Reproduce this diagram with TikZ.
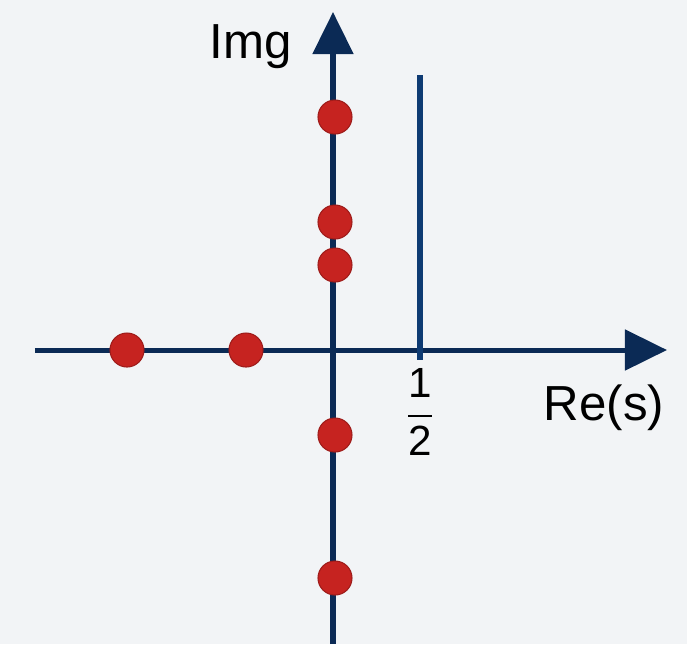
\documentclass[tikz,border=0pt]{standalone}
\usepackage{amsmath}
\usepackage{fontspec}
\setmainfont{Liberation Sans}
\usepackage{xcolor}
\usetikzlibrary{arrows.meta,positioning,calc}

\definecolor{axisnavy}{HTML}{0B2A55}
\definecolor{lineblue}{HTML}{0E3B73}
\definecolor{polered}{HTML}{C62320}
\definecolor{paper}{HTML}{F2F4F6}

\begin{document}
\begin{tikzpicture}[
  x=0.01cm, y=-0.01cm,
  axis/.style={draw=axisnavy, line width=0.05cm, -{Triangle[length=0.42cm, width=0.4cm]}},
  pole/.style={circle, fill=polered, draw=polered!80!black, line width=0.3pt, inner sep=0pt, minimum size=0.34cm},
  lbl/.style={font=\fontsize{14}{17}\selectfont, inner sep=0pt}
]
  \fill[paper] (0,0) rectangle (687,644);
  \useasboundingbox (0,0) rectangle (687,644);

  % axes
  \coordinate (xl) at (35,350);
  \coordinate (xr) at (667,350);
  \coordinate (yb) at (333,644);
  \coordinate (yt) at (333,12);
  \draw[axis] (xl) -- (xr);
  \draw[axis] (yb) -- (yt);

  % critical line
  \coordinate (ht) at (420,75);
  \coordinate (hb) at (420,360);
  \draw[lineblue, line width=0.06cm] (ht) -- (hb);

  % poles
  \node[pole] (p1) at (127,350) {};
  \node[pole] (p2) at (246,350) {};
  \node[pole] (p3) at (335,117) {};
  \node[pole] (p4) at (335,222) {};
  \node[pole] (p5) at (335,265) {};
  \node[pole] (p6) at (335,435) {};
  \node[pole] (p7) at (335,578) {};

  % labels
  \node[lbl, anchor=base] (img) at (251,58) {Img};
  \node[lbl, anchor=base] (re) at (604,420) {Re(s)};
  \node[font=\fontsize{12}{14}\selectfont, inner sep=0pt] (half) at (420,412) {$\displaystyle\frac{\text{1}}{\text{2}}$};
\end{tikzpicture}
\end{document}
